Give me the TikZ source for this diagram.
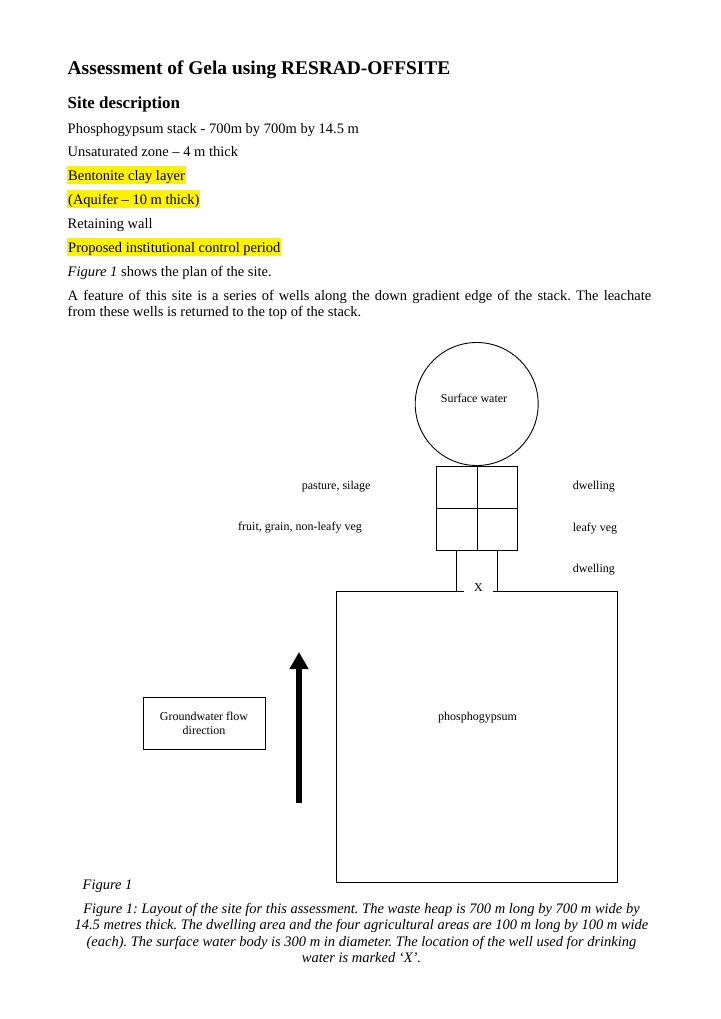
\documentclass[tikz,border=0pt]{standalone}
\usepackage{fontspec}
\setmainfont{Liberation Serif}
\usetikzlibrary{arrows.meta}
\newcommand\bodyfont{\fontsize{14.5}{16.5}\selectfont}
\newcommand\figfont{\fontsize{12}{14}\selectfont}
\frenchspacing
\begin{document}
\frenchspacing
\begin{tikzpicture}[x=1pt,y=-1pt,
  txt/.style={anchor=base west,inner sep=0pt,font=\bodyfont},
  hl/.style={txt,fill=yellow,inner xsep=0.8pt,text height=14pt,text depth=3.6pt},
  lab/.style={anchor=base west,inner sep=0pt,font=\figfont},
  clab/.style={anchor=base,inner sep=0pt,font=\figfont},
  shp/.style={draw=black,line width=0.9pt},
  cell/.style={shp,rectangle,minimum width=40.5pt,minimum height=42pt,inner sep=0pt},
  captxt/.style={anchor=base,inner sep=0pt,font=\bodyfont\itshape}]
\useasboundingbox[fill=white] (0,0) rectangle (720,1019);

% ---- text ----
\node[anchor=base west,inner sep=0pt,font=\fontsize{19.4}{22}\selectfont\bfseries] (title) at (67.5,74.3) {Assessment of Gela using RESRAD-OFFSITE};
\node[anchor=base west,inner sep=0pt,font=\fontsize{16.9}{19}\selectfont\bfseries] (sitedesc) at (67.5,108.3) {Site description};
\node[txt] (l1) at (67.5,133.3) {Phosphogypsum stack - 700m by 700m by 14.5 m};
\node[txt] (l2) at (67.5,156.8) {Unsaturated zone – 4 m thick};
\node[hl] (l3) at (67.2,180.2) {Bentonite clay layer};
\node[hl] (l4) at (67.2,204.3) {(Aquifer – 10 m thick)};
\node[txt] (l5) at (67.5,228.3) {Retaining wall};
\node[hl] (l6) at (67.2,252.3) {Proposed institutional control period};
\node[txt] (l7) at (67.5,276.5) {\textit{Figure 1} shows the plan of the site.};
\node[txt] (l8) at (67.5,300) {\makebox[583.5pt][s]{A feature of this site is a series of wells along the down gradient edge of the stack. The leachate}};
\node[txt] (l9) at (67.5,316.5) {from these wells is returned to the top of the stack.};

% ---- diagram ----
\node[shp,circle,minimum size=123pt,inner sep=0pt] (pond) at (476.7,404) {};
\node[clab] (pondlabel) at (474,402.7) {Surface water};

\node[cell] (c11) at (456.75,487) {};
\node[cell] (c12) at (497.25,487) {};
\node[cell] (c21) at (456.75,529) {};
\node[cell] (c22) at (497.25,529) {};

\node[lab] (past) at (301.7,489) {pasture, silage};
\node[lab] (dw1) at (572.7,489) {dwelling};
\node[lab] (fruit) at (238,530.7) {fruit, grain, non-leafy veg};
\node[lab] (leafy) at (572.7,531) {leafy veg};
\node[lab] (dw2) at (572.7,572) {dwelling};

\node[shp,rectangle,minimum width=281pt,minimum height=291.2pt,inner sep=0pt] (stack) at (477.2,737.2) {};
\draw[shp] (c21.south) -- (c21.south |- stack.north);
\draw[shp] (c22.south) -- (c22.south |- stack.north);
\node[anchor=base,fill=white,inner sep=0pt,minimum width=29pt,text height=9pt,text depth=3.5pt,font=\figfont] (well) at (478.5,591.6) {X};
\node[clab] (stacklabel) at (477.5,720) {phosphogypsum};

\node[shp,rectangle,minimum width=122pt,minimum height=52pt,inner sep=0pt,align=center,font=\figfont] (gw) at (204,723) {Groundwater flow\\direction};

\coordinate (abot) at (299,803);
\coordinate (atip) at (299,652);
\draw[line width=6.5pt,-{Triangle[length=17pt,width=18pt]}] (abot) -- (atip);

% ---- caption ----
\node[txt,font=\bodyfont\itshape] (figlabel) at (82.5,889) {Figure 1};
\node[captxt] (cap1) at (361.5,913.3) {Figure 1: Layout of the site for this assessment. The waste heap is 700 m long by 700 m wide by};
\node[captxt] (cap2) at (361.5,929.8) {14.5 metres thick. The dwelling area and the four agricultural areas are 100 m long by 100 m wide};
\node[captxt] (cap3) at (361.5,946.3) {(each). The surface water body is 300 m in diameter. The location of the well used for drinking};
\node[captxt] (cap4) at (361.5,962.8) {water is marked ‘X’.};
\end{tikzpicture}
\end{document}
